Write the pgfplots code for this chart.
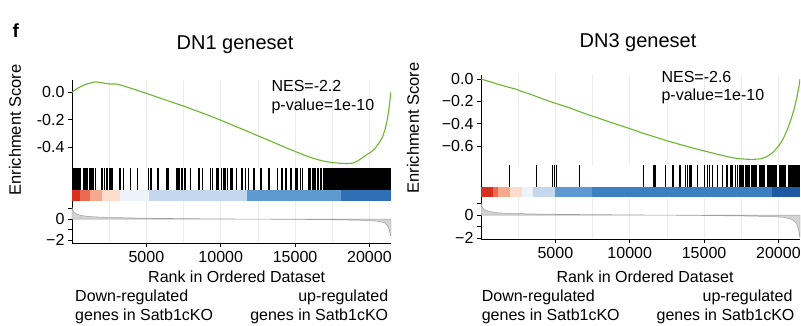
\documentclass[border=0pt]{standalone}
\usepackage{pgfplots}
\pgfplotsset{compat=1.18}
\usepackage{fontspec}
\setmainfont{Liberation Sans}
\definecolor{esgreen}{RGB}{110,182,48}
\definecolor{hA}{HTML}{D7301F}
\definecolor{hB}{HTML}{EC6A50}
\definecolor{hC}{HTML}{F5A98C}
\definecolor{hD}{HTML}{FCDCCA}
\definecolor{hE}{HTML}{EEF3F9}
\definecolor{hF}{HTML}{C3D8EC}
\definecolor{hG}{HTML}{5E9ACF}
\definecolor{hH}{HTML}{3B7FC1}
\definecolor{hI}{HTML}{1D5AA3}
\definecolor{hJ}{HTML}{2E70B3}
\definecolor{mgray}{HTML}{D3D3D3}
\newcommand{\fs}[1]{\fontsize{#1}{#1}\selectfont}
\pgfplotsset{
  gsea/.style={scale only axis, width=319pt, xmin=0, xmax=21450,
    axis y line*=left, axis x line*=bottom,
    y axis line style={-, line width=0.9pt},
    x axis line style={-, line width=0.9pt},
    tick align=outside, major tick length=4pt,
    tick style={line width=0.8pt, black},
    /pgf/number format/assume math mode=true,
    tick label style={font=\fs{16}},
    scaled x ticks=false, scaled y ticks=false,
    grid style={gray!14, line width=0.6pt},
  },
  noxaxis/.style={x axis line style={draw=none}, xtick={2500,5000,7500,10000,12500,15000,17500,20000},
    xticklabels={}, major x tick style={draw=none}, xmajorgrids},
  bar/.style={gsea, noxaxis, xmajorgrids=false, ymin=0, ytick=\empty},
  metric/.style={gsea, xtick={5000,10000,15000,20000}, xticklabels={5000,10000,15000,20000},
    minor xtick={2500,7500,12500,17500}, xmajorgrids, xminorgrids, minor x tick style={draw=none},
    ytick={-2,-1,0,1}, yticklabels={−2,,0,},
    xticklabel style={yshift=-1pt}},
}
\begin{document}
\begin{tikzpicture}
\path[use as bounding box] (0,0) rectangle (801pt,-325pt);
% ================= LEFT PANEL =================
\begin{axis}[gsea, noxaxis, at={(72pt,-168.3pt)}, anchor=south west, height=88.3pt,
  ymin=-0.5527, ymax=0.0895, ytick={-0.4,-0.2,0}, yticklabels={-0.4,-0.2,0.0}]
\addplot[esgreen, line width=1.1pt] coordinates {
(0,0)(150,0.012)(350,0.028)(600,0.042)(850,0.055)(1100,0.064)(1350,0.071)(1600,0.076)(1800,0.073)
(2000,0.069)(2300,0.064)(2600,0.060)(2900,0.061)(3200,0.055)(3600,0.042)(4000,0.028)(4500,0.010)
(5000,-0.008)(5500,-0.026)(6000,-0.045)(6500,-0.063)(7000,-0.082)(7500,-0.100)(8000,-0.120)
(8500,-0.140)(9000,-0.160)(9500,-0.181)(10000,-0.203)(10500,-0.225)(11000,-0.248)(11500,-0.270)
(12000,-0.293)(12500,-0.316)(13000,-0.339)(13500,-0.362)(14000,-0.385)(14500,-0.408)(15000,-0.430)
(15500,-0.452)(16000,-0.472)(16500,-0.489)(17000,-0.502)(17500,-0.511)(18000,-0.516)(18500,-0.518)
(18900,-0.515)(19200,-0.500)(19500,-0.478)(19800,-0.455)(20100,-0.435)(20400,-0.405)(20700,-0.360)
(20900,-0.320)(21050,-0.270)(21200,-0.200)(21300,-0.130)(21380,-0.060)(21430,0.0)};
\end{axis}
\begin{axis}[bar, at={(72pt,-200.7pt)}, anchor=south west, height=32.4pt, ymax=32.4]
\addplot[black, ycomb, line width=1.1pt, no marks] coordinates {
(70,32.4)(130,32.4)(200,32.4)(330,32.4)(400,32.4)(460,32.4)(530,32.4)(600,32.4)
(790,32.4)(860,32.4)(920,32.4)(980,32.4)(1050,32.4)(1190,32.4)(1260,32.4)(1330,32.4)
(1400,32.4)(1470,32.4)(1600,32.4)
(2000,32.4)(2080,32.4)(2160,32.4)(2290,32.4)(2370,32.4)(2530,32.4)(2610,32.4)(2690,32.4)
(3200,32.4)(3280,32.4)(3480,32.4)(3930,32.4)(4380,32.4)(5150,32.4)(5250,32.4)(5310,32.4)
(5760,32.4)(5840,32.4)(6390,32.4)(6500,32.4)(7050,32.4)(7130,32.4)(7250,32.4)(7340,32.4)(7420,32.4)
(7560,32.4)(7640,32.4)(7960,32.4)(8510,32.4)(8590,32.4)(8800,32.4)(9290,32.4)(9420,32.4)
(9750,32.4)(9870,32.4)(10080,32.4)(10160,32.4)(10260,32.4)(10350,32.4)(10430,32.4)(10650,32.4)
(10760,32.4)(11040,32.4)(11430,32.4)(11660,32.4)(11880,32.4)(12200,32.4)(12300,32.4)(12650,32.4)
(12750,32.4)(13210,32.4)(13290,32.4)(13790,32.4)(14120,32.4)(14330,32.4)(14410,32.4)(14670,32.4)
(14770,32.4)(15010,32.4)(15100,32.4)(15160,32.4)(15390,32.4)(15480,32.4)
(15880,32.4)(15950,32.4)(16030,32.4)(16150,32.4)(16220,32.4)(16300,32.4)(16380,32.4)(16530,32.4)
(16600,32.4)(16680,32.4)(16760,32.4)(16930,32.4)(17000,32.4)(17080,32.4)(17160,32.4)(17240,32.4)
(17310,32.4)(17380,32.4)(17450,32.4)(17520,32.4)(17600,32.4)(17670,32.4)(17740,32.4)(17820,32.4)
(17890,32.4)(17960,32.4)(18040,32.4)(18110,32.4)(18180,32.4)(18250,32.4)(18320,32.4)
(18390,32.4)(18460,32.4)(18530,32.4)(18600,32.4)(18670,32.4)(18740,32.4)(18810,32.4)(18880,32.4)
(18950,32.4)(19020,32.4)(19090,32.4)(19160,32.4)(19230,32.4)(19300,32.4)(19370,32.4)(19440,32.4)
(19510,32.4)(19580,32.4)(19650,32.4)(19720,32.4)(19790,32.4)(19860,32.4)(19930,32.4)(20000,32.4)
(20070,32.4)(20140,32.4)(20210,32.4)(20280,32.4)(20350,32.4)(20420,32.4)(20490,32.4)(20560,32.4)
(20630,32.4)(20700,32.4)(20770,32.4)(20840,32.4)(20910,32.4)(20980,32.4)(21050,32.4)(21120,32.4)
(21190,32.4)(21260,32.4)(21330,32.4)(21400,32.4)};
\addplot[fill=hA, draw=none] coordinates {(0,0)(0,10.7)(550,10.7)(550,0)} -- cycle;
\addplot[fill=hB, draw=none] coordinates {(550,0)(550,10.7)(1200,10.7)(1200,0)} -- cycle;
\addplot[fill=hC, draw=none] coordinates {(1200,0)(1200,10.7)(2050,10.7)(2050,0)} -- cycle;
\addplot[fill=hD, draw=none] coordinates {(2050,0)(2050,10.7)(3200,10.7)(3200,0)} -- cycle;
\addplot[fill=hE, draw=none] coordinates {(3200,0)(3200,10.7)(5200,10.7)(5200,0)} -- cycle;
\addplot[fill=hF, draw=none] coordinates {(5200,0)(5200,10.7)(11800,10.7)(11800,0)} -- cycle;
\addplot[fill=hG, draw=none] coordinates {(11800,0)(11800,10.7)(18100,10.7)(18100,0)} -- cycle;
\addplot[fill=hJ, draw=none] coordinates {(18100,0)(18100,10.7)(21450,10.7)(21450,0)} -- cycle;
\end{axis}
\begin{axis}[metric, at={(72pt,-243pt)}, anchor=south west, height=42.3pt, ymin=-2.286, ymax=1.743]
\addplot[fill=mgray, draw=gray!75, line width=0.5pt] coordinates {
(0,0)(0,1.1)(50,0.85)(150,0.62)(300,0.48)(600,0.34)(1000,0.26)(1500,0.2)(2500,0.15)(4000,0.1)
(6000,0.06)(8000,0.03)(10000,0.01)(12000,-0.01)(14000,-0.03)(16000,-0.05)(18000,-0.08)
(19500,-0.12)(20500,-0.2)(21000,-0.35)(21200,-0.6)(21330,-1.0)(21420,-1.6)(21450,-1.6)(21450,0)} -- cycle;
\end{axis}
% ================= RIGHT PANEL =================
\begin{axis}[gsea, noxaxis, at={(481pt,-165pt)}, anchor=south west, height=90pt,
  ymin=-0.768, ymax=0.0357, ytick={-0.6,-0.4,-0.2,0}, yticklabels={−0.6,−0.4,−0.2,0.0}]
\addplot[esgreen, line width=1.1pt] coordinates {
(0,0)(300,-0.012)(700,-0.028)(1100,-0.045)(1500,-0.060)(1900,-0.075)(2400,-0.093)(2900,-0.118)
(3400,-0.140)(3800,-0.160)(4300,-0.185)(4900,-0.212)(5500,-0.238)(6000,-0.260)(6600,-0.290)
(7200,-0.318)(7800,-0.345)(8400,-0.372)(9000,-0.400)(9600,-0.425)(10200,-0.452)(10800,-0.480)
(11400,-0.505)(12000,-0.530)(12600,-0.555)(13200,-0.578)(13800,-0.600)(14400,-0.622)(15000,-0.642)
(15600,-0.662)(16200,-0.682)(16800,-0.700)(17300,-0.711)(17800,-0.716)(18300,-0.718)(18800,-0.713)
(19200,-0.695)(19600,-0.660)(20000,-0.600)(20300,-0.540)(20600,-0.450)(20850,-0.360)(21050,-0.270)
(21200,-0.190)(21320,-0.110)(21400,-0.050)(21450,0.0)};
\end{axis}
\begin{axis}[bar, at={(481pt,-196.7pt)}, anchor=south west, height=31.7pt, ymax=31.7]
\addplot[black, ycomb, line width=1.1pt, no marks] coordinates {
(1930,31.7)(3730,31.7)(4820,31.7)(4920,31.7)(5080,31.7)(6630,31.7)(10900,31.7)(11600,31.7)(11700,31.7)
(12380,31.7)(12850,31.7)(12970,31.7)(13330,31.7)(13440,31.7)(13760,31.7)(13900,31.7)(14000,31.7)
(14120,31.7)(14530,31.7)(15010,31.7)(15220,31.7)(15350,31.7)(15570,31.7)(15910,31.7)(16240,31.7)
(16500,31.7)(16600,31.7)(16810,31.7)(16930,31.7)(17140,31.7)(17270,31.7)(17360,31.7)(17440,31.7)
(17520,31.7)(17600,31.7)(17680,31.7)(17760,31.7)(17840,31.7)(17920,31.7)(18000,31.7)(18080,31.7)
(18160,31.7)(18240,31.7)(18310,31.7)(18380,31.7)(18450,31.7)(18520,31.7)(18740,31.7)(18810,31.7)
(18880,31.7)(18950,31.7)(19020,31.7)(19090,31.7)(19300,31.7)(19370,31.7)(19440,31.7)(19510,31.7)
(19580,31.7)(19650,31.7)(19720,31.7)(19790,31.7)(19860,31.7)(20090,31.7)(20160,31.7)(20230,31.7)
(20300,31.7)(20370,31.7)(20440,31.7)(20650,31.7)(20720,31.7)(20790,31.7)(20860,31.7)(20930,31.7)
(21000,31.7)(21070,31.7)(21140,31.7)(21210,31.7)(21280,31.7)(21350,31.7)(21410,31.7)};
\addplot[fill=hA, draw=none] coordinates {(0,0)(0,10)(830,10)(830,0)} -- cycle;
\addplot[fill=hB, draw=none] coordinates {(830,0)(830,10)(1170,10)(1170,0)} -- cycle;
\addplot[fill=hC, draw=none] coordinates {(1170,0)(1170,10)(1950,10)(1950,0)} -- cycle;
\addplot[fill=hD, draw=none] coordinates {(1950,0)(1950,10)(2730,10)(2730,0)} -- cycle;
\addplot[fill=hE, draw=none] coordinates {(2730,0)(2730,10)(3520,10)(3520,0)} -- cycle;
\addplot[fill=hF, draw=none] coordinates {(3520,0)(3520,10)(4980,10)(4980,0)} -- cycle;
\addplot[fill=hG, draw=none] coordinates {(4980,0)(4980,10)(7440,10)(7440,0)} -- cycle;
\addplot[fill=hH, draw=none] coordinates {(7440,0)(7440,10)(19550,10)(19550,0)} -- cycle;
\addplot[fill=hI, draw=none] coordinates {(19550,0)(19550,10)(21450,10)(21450,0)} -- cycle;
\end{axis}
\begin{axis}[metric, at={(481pt,-239pt)}, anchor=south west, height=42.3pt, ymin=-2.07, ymax=1.578]
\addplot[fill=mgray, draw=gray!75, line width=0.5pt] coordinates {
(0,0)(0,1.0)(60,0.72)(200,0.5)(500,0.33)(1000,0.2)(2000,0.13)(4000,0.08)(6000,0.05)(8000,0.03)
(10000,0.01)(12000,-0.01)(14000,-0.03)(16000,-0.06)(18000,-0.09)(19500,-0.13)(20400,-0.2)
(20900,-0.38)(21200,-0.7)(21350,-1.2)(21430,-1.9)(21450,-1.9)(21450,0)} -- cycle;
\end{axis}
% ================= TEXT =================
\node[anchor=base west, font=\fs{19}\bfseries] at (9pt,-37pt) {f};
\node[font=\fs{20}] at (235pt,-45pt) {DN1 geneset};
\node[font=\fs{20}] at (638pt,-43pt) {DN3 geneset};
\node[rotate=90, font=\fs{16.5}] at (15pt,-130pt) {Enrichment Score};
\node[rotate=90, font=\fs{16.5}] at (413pt,-128pt) {Enrichment Score};
\node[anchor=base west, font=\fs{16}] at (268pt,-91.7pt) {NES=-2.2};
\node[anchor=base west, font=\fs{16}] at (268pt,-110pt) {p-value=1e-10};
\node[anchor=base west, font=\fs{16}] at (658pt,-82pt) {NES=-2.6};
\node[anchor=base west, font=\fs{16}] at (658pt,-100pt) {p-value=1e-10};
\node[anchor=base, font=\fs{16}] at (236.7pt,-282pt) {Rank in Ordered Dataset};
\node[anchor=base, font=\fs{16}] at (645pt,-282pt) {Rank in Ordered Dataset};
\node[anchor=base west, font=\fs{16}] at (71.7pt,-301.7pt) {Down-regulated};
\node[anchor=base west, font=\fs{16}] at (71.7pt,-320pt) {genes in Satb1cKO};
\node[anchor=base east, font=\fs{16}] at (391.7pt,-301.7pt) {up-regulated};
\node[anchor=base east, font=\fs{16}] at (391.7pt,-320pt) {genes in Satb1cKO};
\node[anchor=base west, font=\fs{16}] at (478.3pt,-301.7pt) {Down-regulated};
\node[anchor=base west, font=\fs{16}] at (478.3pt,-320pt) {genes in Satb1cKO};
\node[anchor=base east, font=\fs{16}] at (796pt,-301.7pt) {up-regulated};
\node[anchor=base east, font=\fs{16}] at (798pt,-320pt) {genes in Satb1cKO};
\end{tikzpicture}
\end{document}
